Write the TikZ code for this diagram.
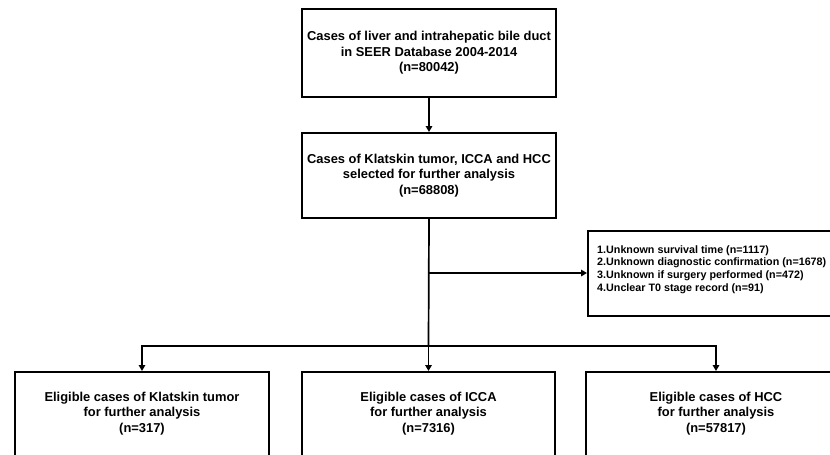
\documentclass[tikz,border=0pt]{standalone}
\usepackage{fontspec}
\setmainfont{Liberation Sans}
\usetikzlibrary{arrows.meta}
\begin{document}
\begin{tikzpicture}[x=1pt,y=-1pt,
  box/.style={draw,line width=2pt,rectangle,inner sep=0pt},
  txt/.style={align=center,inner sep=0pt,font=\fontsize{12.9}{15.5}\selectfont\bfseries},
  smalltxt/.style={align=left,inner sep=0pt,font=\fontsize{10.75}{12.6}\selectfont\bfseries},
  arr/.style={line width=1.7pt,-{Triangle[length=6pt,width=6.5pt]}},
  ln/.style={line width=1.7pt}]
\useasboundingbox (0,0) rectangle (830,455);
\clip (0,0) rectangle (830,455);
% top boxes
\node[box,minimum width=254pt,minimum height=88pt,txt] (b1) at (429,53)
  {Cases of liver and intrahepatic bile duct\\in SEER Database 2004-2014\\(n=80042)};
\node[box,minimum width=254pt,minimum height=85pt,txt] (b2) at (429,175.5)
  {Cases of Klatskin tumor, ICCA and HCC\\selected for further analysis\\(n=68808)};
% exclusion box
\node[box,minimum width=260pt,minimum height=85pt,anchor=north west] (ex) at (587,230) {};
\node[smalltxt,anchor=west] (ext) at (597,269.5)
  {1.Unknown survival time (n=1117)\\2.Unknown diagnostic confirmation (n=1678)\\3.Unknown if surgery performed (n=472)\\4.Unclear T0 stage record (n=91)};
% bottom boxes
\node[box,minimum width=254pt,minimum height=100pt,anchor=north] (kb) at (142,371) {};
\node[txt] (kt) at (142,413.5) {Eligible cases of Klatskin tumor\\for further analysis\\(n=317)};
\node[box,minimum width=253pt,minimum height=100pt,anchor=north] (ib) at (428.5,371) {};
\node[txt] (it) at (428.5,413.5) {Eligible cases of ICCA\\for further analysis\\(n=7316)};
\node[box,minimum width=260pt,minimum height=100pt,anchor=north] (hb) at (716,371) {};
\node[txt] (ht) at (716,413.5) {Eligible cases of HCC\\for further analysis\\(n=57817)};
% connectors
\coordinate (split) at (428.5,273);
\coordinate (bar) at (428.5,346);
\draw[arr] (b1.south) -- (b2.north);
\draw[ln] (b2.south) -- (bar);
\draw[arr] (split) -- (ex.west |- split);
\draw[arr] (bar) -- (ib.north);
\draw[arr] (bar) -| (kb.north);
\draw[arr] (bar) -| (hb.north);
\end{tikzpicture}
\end{document}
